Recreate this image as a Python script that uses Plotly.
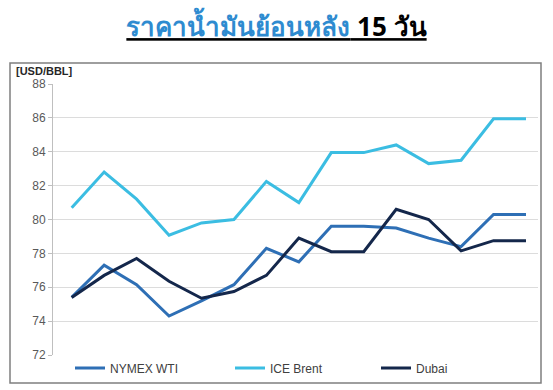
import plotly.graph_objects as go

days = list(range(1, 16))
wti = [75.4, 77.3, 76.15, 74.3, 75.2, 76.15, 78.3, 77.5, 79.6, 79.6, 79.5, 78.9, 78.4, 80.3, 80.3]
brent = [80.7, 82.8, 81.2, 79.07, 79.8, 80.0, 82.25, 81.0, 83.95, 83.95, 84.4, 83.3, 83.5, 85.95, 85.95]
dubai = [75.4, 76.7, 77.7, 76.35, 75.35, 75.75, 76.7, 78.9, 78.1, 78.1, 80.6, 80.0, 78.15, 78.75, 78.75]
series_names = ["NYMEX WTI", "ICE Brent", "Dubai"]
colors = ["#2E6FB5", "#3BBDE2", "#14274B"]
y_ticks = [72, 74, 76, 78, 80, 82, 84, 86, 88]

W, H = 553, 390
L, R, T, B = 53, 15, 84, 35
pw, ph = W - L - R, H - T - B

def px_x(px):
    return (px - L) / pw

def px_y(py):
    return (H - B - py) / ph

fig = go.Figure()
legends = ["legend", "legend2", "legend3"]
for name, vals, col, lg in zip(series_names, [wti, brent, dubai], colors, legends):
    fig.add_trace(go.Scatter(x=days, y=vals, mode="lines", name=name,
                             line=dict(color=col, width=3), legend=lg))

legend_x = [70, 230, 376]
common_leg = dict(orientation="h", y=px_y(368), yanchor="middle", xanchor="left",
                  bgcolor="rgba(0,0,0,0)", font=dict(family="Liberation Sans", size=12, color="#404040"),
                  itemwidth=30)
fig.update_layout(
    width=W, height=H,
    margin=dict(l=L, r=R, t=T, b=B, autoexpand=False),
    paper_bgcolor="white", plot_bgcolor="white",
    showlegend=True,
    legend=dict(x=px_x(legend_x[0]), **common_leg),
    legend2=dict(x=px_x(legend_x[1]), **common_leg),
    legend3=dict(x=px_x(legend_x[2]), **common_leg),
    xaxis=dict(range=[1 - 0.576, 15 + 0.37], showgrid=False, showticklabels=False,
               zeroline=False, showline=False, ticks=""),
    yaxis=dict(range=[72, 88], tickvals=y_ticks, showgrid=True, gridcolor="#DCDCDC",
               gridwidth=1, zeroline=False, showline=True, linecolor="#BFBFBF",
               ticks="outside", ticklen=4, tickcolor="#BFBFBF",
               tickfont=dict(family="Liberation Sans", size=12, color="#595959")),
    title=dict(
        text="<b><u><span style='color:#2E8BD0'>ราคาน้ำมันย้อนหลัง</span> 15 วัน</u></b>",
        x=0.5, xref="container", xanchor="center", y=1 - 27 / H, yanchor="middle",
        font=dict(family="Noto Sans, Liberation Sans", size=26, color="black")),
)
# Outer border box
fig.add_shape(type="rect", xref="paper", yref="paper",
              x0=px_x(10), x1=px_x(541), y0=px_y(383), y1=px_y(63),
              line=dict(color="#7F7F7F", width=1.5), fillcolor="rgba(0,0,0,0)", layer="below")
fig.add_annotation(text="<b>[USD/BBL]</b>", xref="paper", yref="paper",
                   x=px_x(14), y=px_y(71), xanchor="left", yanchor="middle", showarrow=False,
                   font=dict(family="Liberation Sans", size=11, color="#262626"))

fig.write_html("out.html", config={"displayModeBar": False},
               post_script="document.body.style.margin='0';document.body.style.overflow='hidden';")
